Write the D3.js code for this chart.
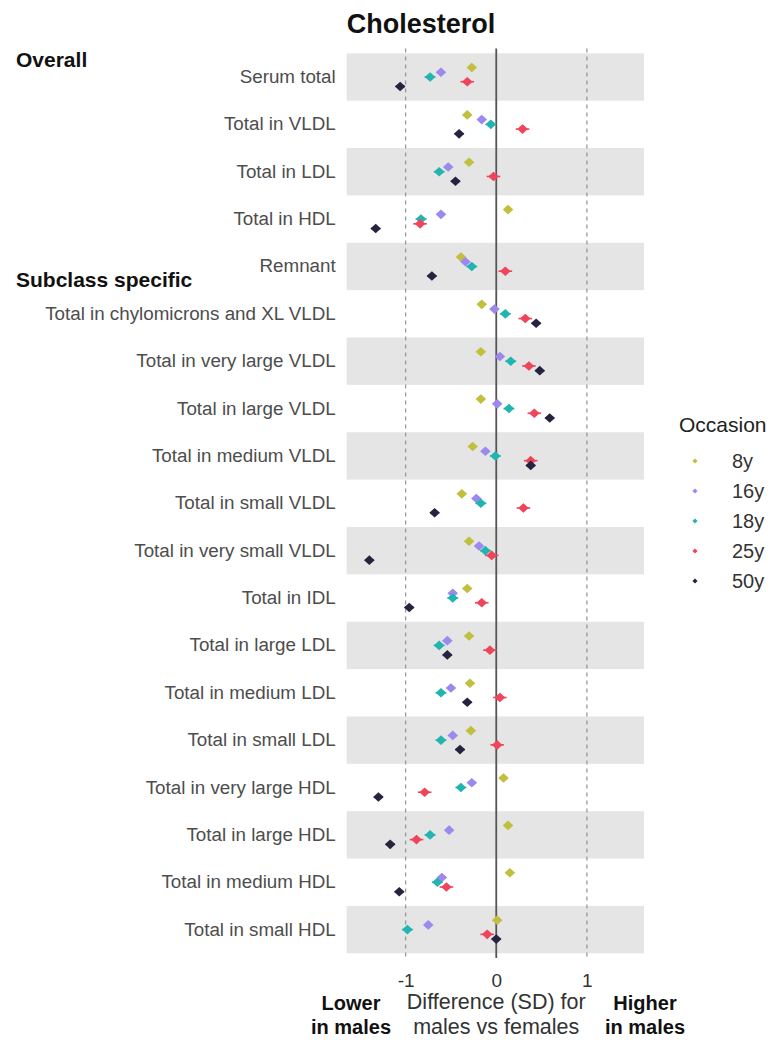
<!DOCTYPE html>
<html>
<head>
<meta charset="utf-8">
<script src="https://cdn.jsdelivr.net/npm/d3@7"></script>
<style>
  html, body { margin: 0; padding: 0; background: #fff; }
  svg { display: block; font-family: "Liberation Sans", Arial, sans-serif; }
</style>
</head>
<body>
<svg id="chart" width="770" height="1040"></svg>
<script>
const categories = [
  "Serum total", "Total in VLDL", "Total in LDL", "Total in HDL", "Remnant",
  "Total in chylomicrons and XL VLDL", "Total in very large VLDL", "Total in large VLDL",
  "Total in medium VLDL", "Total in small VLDL", "Total in very small VLDL", "Total in IDL",
  "Total in large LDL", "Total in medium LDL", "Total in small LDL", "Total in very large HDL",
  "Total in large HDL", "Total in medium HDL", "Total in small HDL"
];
const occasions = ["8y", "16y", "18y", "25y", "50y"];
const values8y  = [-0.27, -0.32, -0.30,  0.13, -0.39, -0.16, -0.17, -0.17, -0.26, -0.38, -0.30, -0.32, -0.30, -0.29, -0.28,  0.08,  0.13,  0.15,  0.01];
const values16y = [-0.61, -0.16, -0.53, -0.61, -0.34, -0.02,  0.04,  0.01, -0.12, -0.22, -0.19, -0.48, -0.54, -0.50, -0.48, -0.27, -0.52, -0.60, -0.75];
const values18y = [-0.73, -0.06, -0.63, -0.83, -0.27,  0.10,  0.16,  0.14, -0.01, -0.17, -0.12, -0.48, -0.63, -0.61, -0.61, -0.39, -0.73, -0.65, -0.98];
const values25y = [-0.32,  0.29, -0.03, -0.84,  0.10,  0.32,  0.36,  0.42,  0.38,  0.30, -0.05, -0.16, -0.07,  0.04,  0.01, -0.79, -0.88, -0.55, -0.10];
const values50y = [-1.06, -0.41, -0.45, -1.33, -0.71,  0.44,  0.48,  0.59,  0.38, -0.68, -1.40, -0.96, -0.54, -0.32, -0.40, -1.30, -1.17, -1.07,  0.00];
const ciHalfWidth = [0.03, 0.04, 0.06, 0.075, 0.05];
const xTicks = [-1, 0, 1];
const sectionLabels = [{ text: "Overall", row: "Serum total" }, { text: "Subclass specific", row: "Remnant" }];
const colors = ["#c0bf3e", "#9c88ee", "#22b4b0", "#ef4459", "#24243f"];

const seriesValues = [values8y, values16y, values18y, values25y, values50y];
const points = [];
categories.forEach((c, i) => {
  occasions.forEach((o, j) => {
    points.push({ cat: c, occ: o, value: seriesValues[j][i], ci: ciHalfWidth[j] });
  });
});

const svg = d3.select("#chart");
const panel = { left: 346.7, right: 644, top: 48.6, bottom: 958 };
const bandTop = 53.3, bandBottom = 953.3;

const x = d3.scaleLinear().domain([-1.65, 1.63]).range([panel.left, panel.right]);
const y = d3.scaleBand().domain(categories).range([bandTop, bandBottom]).padding(0);
const step = y.bandwidth();
const dodge = d3.scalePoint().domain(occasions).range([-0.2 * step, 0.2 * step]);
const color = d3.scaleOrdinal().domain(occasions).range(colors);

// Title
svg.append("text").attr("x", panel.left).attr("y", 33)
  .attr("font-size", 27).attr("font-weight", "bold").attr("fill", "#111")
  .text("Cholesterol");

// Alternating bands
svg.append("g").selectAll("rect")
  .data(categories.filter((d, i) => i % 2 === 0))
  .join("rect")
  .attr("x", panel.left).attr("width", panel.right - panel.left)
  .attr("y", d => y(d)).attr("height", step)
  .attr("fill", "#e5e5e5");

// Reference lines
svg.append("g").selectAll("line")
  .data([-1, 1]).join("line")
  .attr("x1", d => x(d)).attr("x2", d => x(d))
  .attr("y1", panel.top).attr("y2", panel.bottom)
  .attr("stroke", "#9a9a9a").attr("stroke-width", 1.3).attr("stroke-dasharray", "4,4");
svg.append("line")
  .attr("x1", x(0)).attr("x2", x(0)).attr("y1", panel.top).attr("y2", panel.bottom)
  .attr("stroke", "#555").attr("stroke-width", 1.8);

// Y axis labels
const yAxis = d3.axisLeft(y).tickSize(0).tickPadding(11);
const gy = svg.append("g").attr("transform", `translate(${panel.left},0)`).call(yAxis);
gy.select(".domain").remove();
gy.selectAll("text").attr("font-size", 18.8).attr("fill", "#4d4d4d")
  .style("font-family", '"Liberation Sans", Arial, sans-serif');

// Section labels
svg.append("g").selectAll("text").data(sectionLabels).join("text")
  .attr("x", 16)
  .attr("y", (d, i) => i === 0 ? y(d.row) + 14 : y(d.row) + step / 2 + 21)
  .attr("font-size", 21).attr("font-weight", "bold").attr("fill", "#111")
  .text(d => d.text);

// X axis
const xAxis = d3.axisBottom(x).tickValues(xTicks).tickSize(0).tickPadding(16).tickFormat(d3.format("d"));
const gx = svg.append("g").attr("transform", `translate(0,${panel.bottom})`).call(xAxis);
gx.select(".domain").remove();
gx.selectAll("text").attr("font-size", 19).attr("fill", "#333")
  .style("font-family", '"Liberation Sans", Arial, sans-serif')
  .text(d => d === -1 ? "-1" : d);

// Axis titles
const xt = svg.append("text").attr("x", x(0)).attr("text-anchor", "middle")
  .attr("font-size", 21.5).attr("fill", "#333");
xt.append("tspan").attr("x", x(0)).attr("y", 1009).text("Difference (SD) for");
xt.append("tspan").attr("x", x(0)).attr("y", 1034).text("males vs females");

const lt = svg.append("text").attr("text-anchor", "middle").attr("font-size", 20)
  .attr("font-weight", "bold").attr("fill", "#111");
lt.append("tspan").attr("x", 351).attr("y", 1010).text("Lower");
lt.append("tspan").attr("x", 351).attr("y", 1034).text("in males");

const ht = svg.append("text").attr("text-anchor", "middle").attr("font-size", 20)
  .attr("font-weight", "bold").attr("fill", "#111");
ht.append("tspan").attr("x", 645).attr("y", 1010).text("Higher");
ht.append("tspan").attr("x", 645).attr("y", 1034).text("in males");

// Error bars
const pts = svg.append("g");
pts.selectAll("line").data(points).join("line")
  .attr("x1", d => x(d.value - d.ci)).attr("x2", d => x(d.value + d.ci))
  .attr("y1", d => y(d.cat) + step / 2 + dodge(d.occ))
  .attr("y2", d => y(d.cat) + step / 2 + dodge(d.occ))
  .attr("stroke", d => color(d.occ)).attr("stroke-width", 1.6);

// Diamonds
const diamond = (w, h) => `M0,${-h}L${w},0L0,${h}L${-w},0Z`;
pts.selectAll("path").data(points).join("path")
  .attr("transform", d => `translate(${x(d.value)},${y(d.cat) + step / 2 + dodge(d.occ)})`)
  .attr("d", diamond(5.3, 4.8))
  .attr("fill", d => color(d.occ));

// Legend
const legend = svg.append("g");
legend.append("text").attr("x", 679).attr("y", 432).attr("font-size", 21).attr("fill", "#222")
  .text("Occasion");
const li = legend.selectAll("g.item").data(occasions).join("g").attr("class", "item")
  .attr("transform", (d, i) => `translate(695,${461 + i * 30})`);
li.append("path").attr("d", diamond(2.6, 2.6)).attr("fill", d => color(d));
li.append("text").attr("x", 37).attr("y", 0).attr("dy", "0.35em")
  .attr("font-size", 20).attr("fill", "#333").text(d => d);
</script>
</body>
</html>
